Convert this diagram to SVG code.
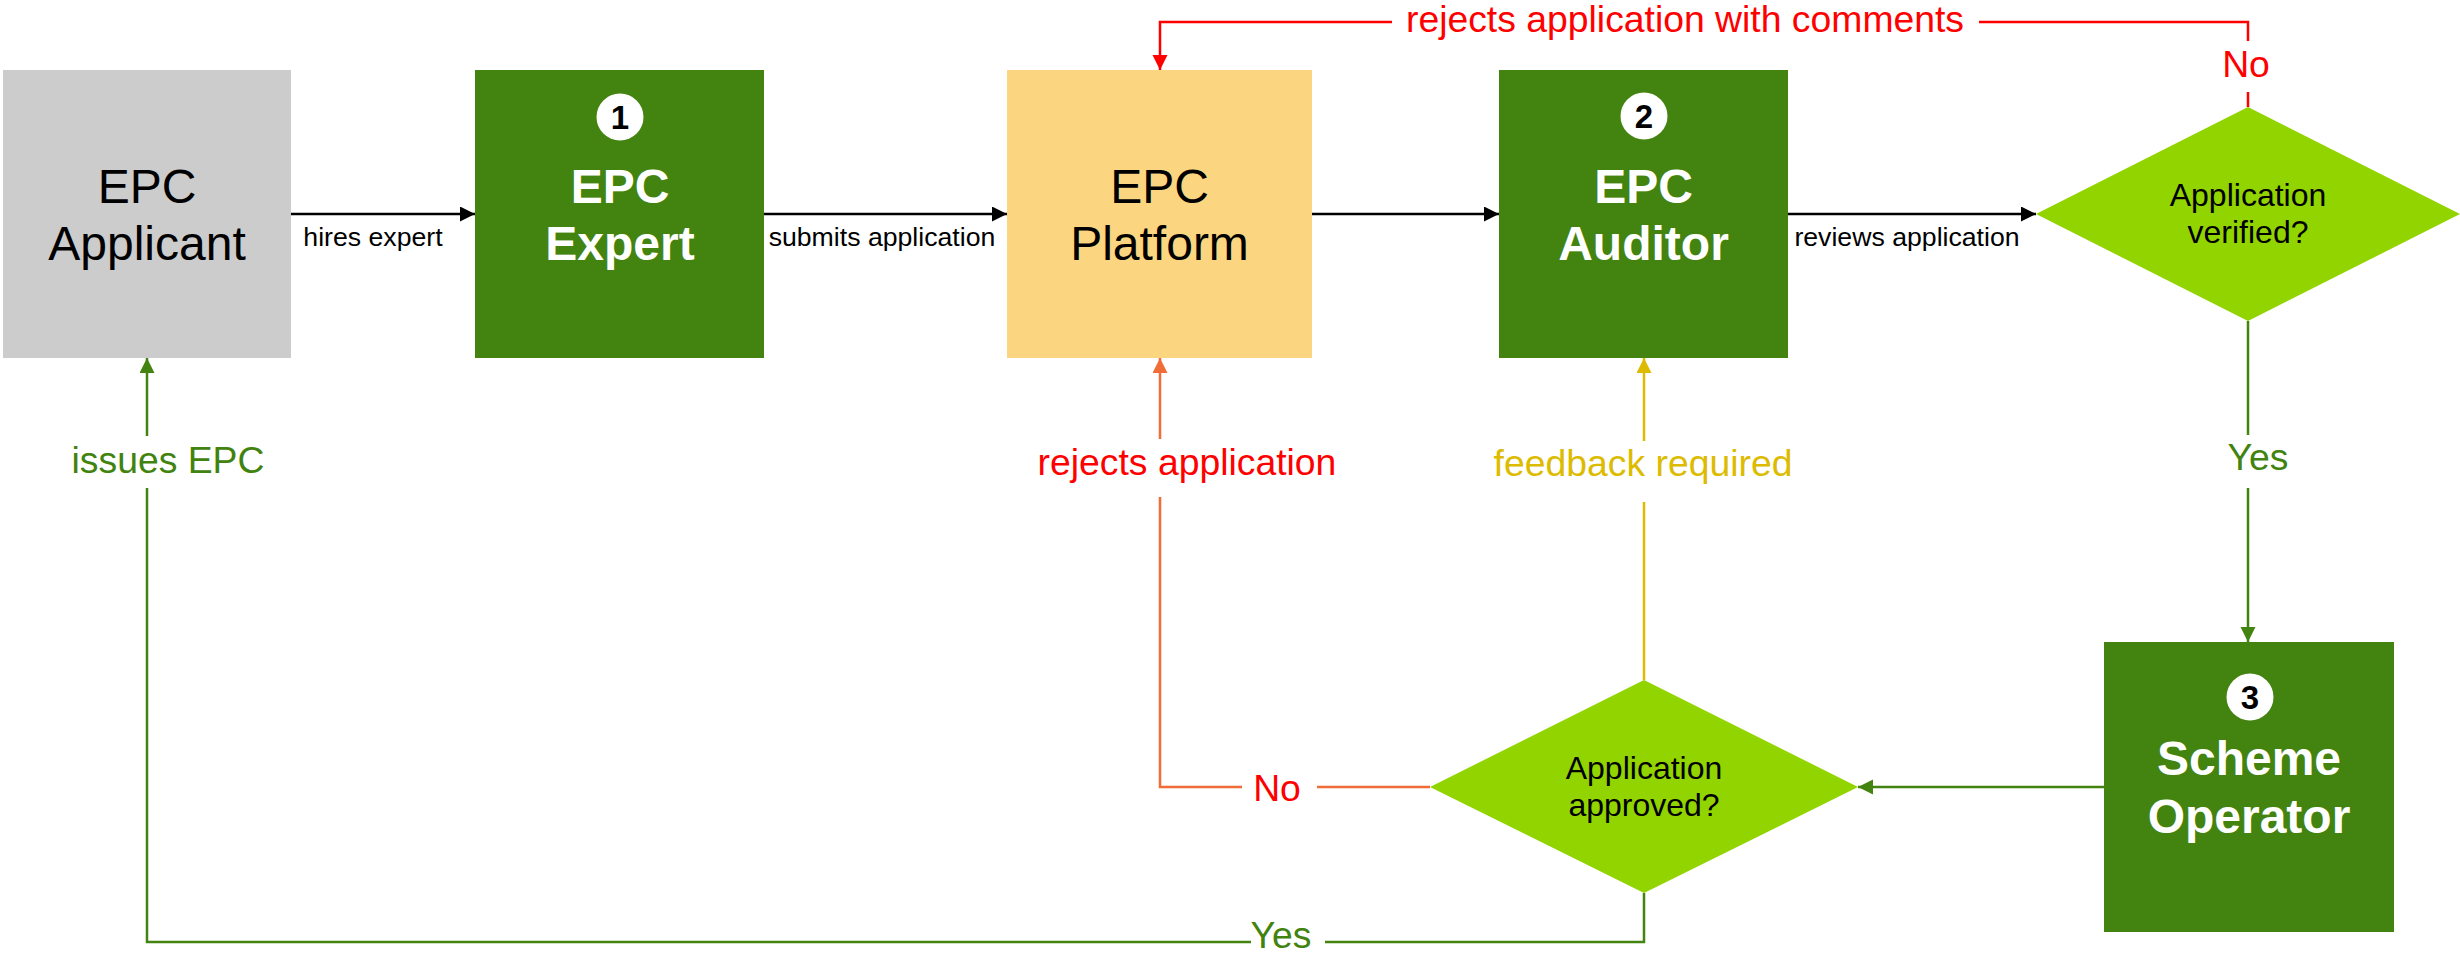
<svg xmlns="http://www.w3.org/2000/svg" width="2460" height="956" viewBox="0 0 2460 956">
<style>
text{font-family:"Liberation Sans",Arial,Helvetica,sans-serif;text-anchor:middle}
.big{font-size:48px}
.bw{font-size:48px;font-weight:bold;fill:#ffffff}
.bk{fill:#000000}
.num{font-size:33px;font-weight:bold;fill:#000000}
.q{font-size:32px;fill:#000000}
.sm{font-size:26.67px;fill:#000000}
.lb{font-size:37.33px}
.red{fill:#ff0000}
.grn{fill:#41830e}
.yel{fill:#dcbb00}
.dg{fill:#43830f}
.lime{fill:#92d400}
.ln{fill:none;stroke-width:2.5}
.k{stroke:#000000;stroke-width:2.5}
.r{stroke:#ff0000}
.o{stroke:#f06d3a}
.y{stroke:#dcbb00}
.g{stroke:#43830f}
</style>
<defs>
<marker id="ak" markerUnits="userSpaceOnUse" markerWidth="16" markerHeight="16" refX="15" refY="7.5" orient="auto"><path d="M0,0 L15,7.5 L0,15 z" fill="#000000"/></marker>
<marker id="ar" markerUnits="userSpaceOnUse" markerWidth="16" markerHeight="16" refX="15" refY="7.5" orient="auto"><path d="M0,0 L15,7.5 L0,15 z" fill="#ff0000"/></marker>
<marker id="ao" markerUnits="userSpaceOnUse" markerWidth="16" markerHeight="16" refX="15" refY="7.5" orient="auto"><path d="M0,0 L15,7.5 L0,15 z" fill="#f06d3a"/></marker>
<marker id="ay" markerUnits="userSpaceOnUse" markerWidth="16" markerHeight="16" refX="15" refY="7.5" orient="auto"><path d="M0,0 L15,7.5 L0,15 z" fill="#dcbb00"/></marker>
<marker id="ag" markerUnits="userSpaceOnUse" markerWidth="16" markerHeight="16" refX="15" refY="7.5" orient="auto"><path d="M0,0 L15,7.5 L0,15 z" fill="#43830f"/></marker>
</defs>
<rect width="2460" height="956" fill="#ffffff"/>

<g id="applicant">
<rect x="3" y="70" width="288" height="288" fill="#cccccc"/>
<text class="big bk" x="147" y="203">EPC</text>
<text class="big bk" x="147" y="260">Applicant</text>
</g>

<g id="expert">
<rect class="dg" x="475" y="70" width="289" height="288"/>
<circle cx="620" cy="117" r="23.5" fill="#ffffff"/>
<text class="num" x="620" y="129">1</text>
<text class="bw" x="620" y="203">EPC</text>
<text class="bw" x="620" y="260">Expert</text>
</g>

<g id="platform">
<rect x="1007" y="70" width="305" height="288" fill="#fbd57f"/>
<text class="big bk" x="1159.5" y="203">EPC</text>
<text class="big bk" x="1159.5" y="260">Platform</text>
</g>

<g id="auditor">
<rect class="dg" x="1499" y="70" width="289" height="288"/>
<circle cx="1644" cy="116" r="23.5" fill="#ffffff"/>
<text class="num" x="1644" y="128">2</text>
<text class="bw" x="1643.5" y="203">EPC</text>
<text class="bw" x="1643.5" y="260">Auditor</text>
</g>

<g id="verified">
<polygon class="lime" points="2248,107 2460,214 2248,321 2036,214"/>
<text class="q" x="2248" y="206">Application</text>
<text class="q" x="2248" y="243">verified?</text>
</g>

<g id="scheme">
<rect class="dg" x="2104" y="642" width="290" height="290"/>
<circle cx="2250" cy="697" r="23.5" fill="#ffffff"/>
<text class="num" x="2250" y="709">3</text>
<text class="bw" x="2249" y="775">Scheme</text>
<text class="bw" x="2249" y="833">Operator</text>
</g>

<g id="approved">
<polygon class="lime" points="1644,680 1858,787 1644,893 1430,787"/>
<text class="q" x="1644" y="779">Application</text>
<text class="q" x="1644" y="816">approved?</text>
</g>

<g id="connectors">
<path class="ln k" d="M291,214 H475" marker-end="url(#ak)"/>
<text class="sm" x="373" y="246">hires expert</text>
<path class="ln k" d="M764,214 H1007" marker-end="url(#ak)"/>
<text class="sm" x="882" y="246">submits application</text>
<path class="ln k" d="M1312,214 H1499" marker-end="url(#ak)"/>
<path class="ln k" d="M1788,214 H2036" marker-end="url(#ak)"/>
<text class="sm" x="1907" y="246">reviews application</text>

<path class="ln r" d="M2248,107 V92"/>
<path class="ln r" d="M2248,41 V22 H1979"/>
<path class="ln r" d="M1392,22 H1160 V70" marker-end="url(#ar)"/>
<text class="lb red" x="2246" y="77">No</text>
<text class="lb red" x="1685" y="32">rejects application with comments</text>

<path class="ln g" d="M2248,321 V435"/>
<path class="ln g" d="M2248,488 V642" marker-end="url(#ag)"/>
<text class="lb grn" x="2258" y="470">Yes</text>

<path class="ln g" d="M2104,787 H1858" marker-end="url(#ag)"/>

<path class="ln y" d="M1644,680 V502"/>
<path class="ln y" d="M1644,441 V358" marker-end="url(#ay)"/>
<text class="lb yel" x="1643" y="476">feedback required</text>

<path class="ln o" d="M1430,787 H1317"/>
<path class="ln o" d="M1242,787 H1160 V497"/>
<path class="ln o" d="M1160,439 V358" marker-end="url(#ao)"/>
<text class="lb red" x="1277" y="801">No</text>
<text class="lb red" x="1187" y="475">rejects application</text>

<path class="ln g" d="M1644,893 V942 H1325"/>
<path class="ln g" d="M1251,942 H147 V488"/>
<path class="ln g" d="M147,436 V358" marker-end="url(#ag)"/>
<text class="lb grn" x="1281" y="948">Yes</text>
<text class="lb grn" x="168" y="473">issues EPC</text>
</g>
</svg>
